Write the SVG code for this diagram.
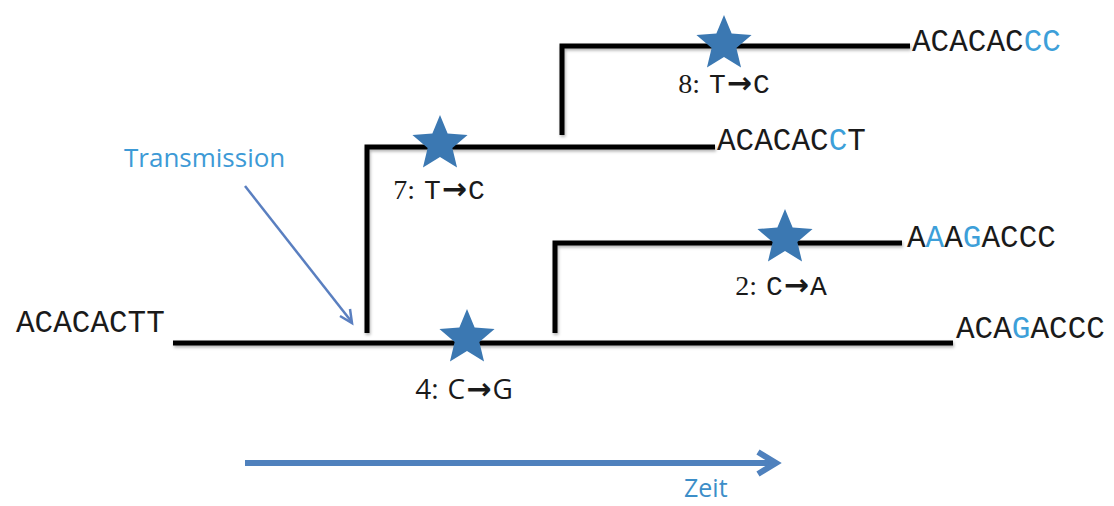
<svg xmlns="http://www.w3.org/2000/svg" xmlns:xlink="http://www.w3.org/1999/xlink" width="1114" height="506" viewBox="0 0 1114 506">
  <style>
    .seq { font-family: "Courier New", "Liberation Mono", monospace; font-size: 31px; fill: #1a1a1a; }
    .hl { fill: #3d9fd9; }
    .mut { font-family: "Courier New", "Liberation Mono", monospace; font-size: 28px; fill: #1a1a1a; text-anchor: middle; }
    .num { font-family: "Liberation Serif", serif; }
    .arr { font-family: "DejaVu Sans", sans-serif; font-weight: bold; font-size: 30px; }
    .sans { font-family: "Open Sans", "Liberation Sans", sans-serif; }
    .branch { fill: none; stroke: #000; stroke-width: 5; stroke-linecap: butt; stroke-linejoin: miter; }
    .star { fill: #3b78b2; }
    .note { font-family: "Open Sans", "Liberation Sans", sans-serif; font-size: 26px; fill: #3d9ad6; }
  </style>
  <defs>
    <path id="star" d="M0,-29 L7.64,-10.52 L27.58,-8.96 L12.36,4.02 L17.05,23.46 L0,13 L-17.05,23.46 L-12.36,4.02 L-27.58,-8.96 L-7.64,-10.52 Z"/>
    <filter id="shadow" x="-5%" y="-20%" width="110%" height="140%">
      <feDropShadow dx="1" dy="2" stdDeviation="1.5" flood-color="#000" flood-opacity="0.3"/>
    </filter>
  </defs>
  <rect width="1114" height="506" fill="#fff"/>

  <g id="connectors" filter="url(#shadow)">
    <path class="branch" d="M173,343 L953,343"/>
    <path class="branch" d="M367,333 L367,147 L715,147"/>
    <path class="branch" d="M562,135 L562,46 L910,46"/>
    <path class="branch" d="M555,333 L555,243 L902,243"/>
  </g>

  <g id="seq-root"><text class="seq" x="16" y="332">ACACACTT</text></g>
  <g id="seq-7"><text class="seq" x="717" y="150">ACACAC<tspan class="hl">C</tspan>T</text></g>
  <g id="seq-8"><text class="seq" x="912" y="51">ACACAC<tspan class="hl">CC</tspan></text></g>
  <g id="seq-2"><text class="seq" x="907" y="247">A<tspan class="hl">A</tspan>A<tspan class="hl">G</tspan>ACCC</text></g>
  <g id="seq-4"><text class="seq" x="956" y="338">ACA<tspan class="hl">G</tspan>ACCC</text></g>

  <g id="mut-8">
    <use xlink:href="#star" href="#star" class="star" x="724" y="44"/>
    <text class="mut" x="724" y="93"><tspan class="num">8:</tspan><tspan dx="9">T</tspan><tspan class="arr" dx="1">→</tspan><tspan dx="1">C</tspan></text>
  </g>
  <g id="mut-7">
    <use xlink:href="#star" href="#star" class="star" x="440" y="144"/>
    <text class="mut" x="439" y="199"><tspan class="num">7:</tspan><tspan dx="9">T</tspan><tspan class="arr" dx="1">→</tspan><tspan dx="1">C</tspan></text>
  </g>
  <g id="mut-2">
    <use xlink:href="#star" href="#star" class="star" x="785" y="238"/>
    <text class="mut" x="781" y="295"><tspan class="num">2:</tspan><tspan dx="9">C</tspan><tspan class="arr" dx="1">→</tspan><tspan dx="1">A</tspan></text>
  </g>
  <g id="mut-4">
    <use xlink:href="#star" href="#star" class="star" x="467" y="338"/>
    <text class="mut sans" x="464" y="399">4:<tspan dx="9">C</tspan><tspan class="arr" dx="1">→</tspan><tspan dx="1">G</tspan></text>
  </g>

  <g id="transmission">
    <text class="note" x="124" y="167">Transmission</text>
    <path d="M245,186 L351,321" fill="none" stroke="#5a7fc0" stroke-width="2.5"/>
    <path d="M340,316 L352,323 L350,309" fill="none" stroke="#5a7fc0" stroke-width="2.5" stroke-linejoin="miter"/>
  </g>

  <g id="time-axis">
    <path d="M245,463 L775,463" fill="none" stroke="#4f81bd" stroke-width="6"/>
    <path d="M758,452 L776,463 L758,474" fill="none" stroke="#4f81bd" stroke-width="6" stroke-linejoin="miter"/>
    <text class="note" x="684" y="497" style="fill:#3c8ec8;font-size:25px">Zeit</text>
  </g>
</svg>
